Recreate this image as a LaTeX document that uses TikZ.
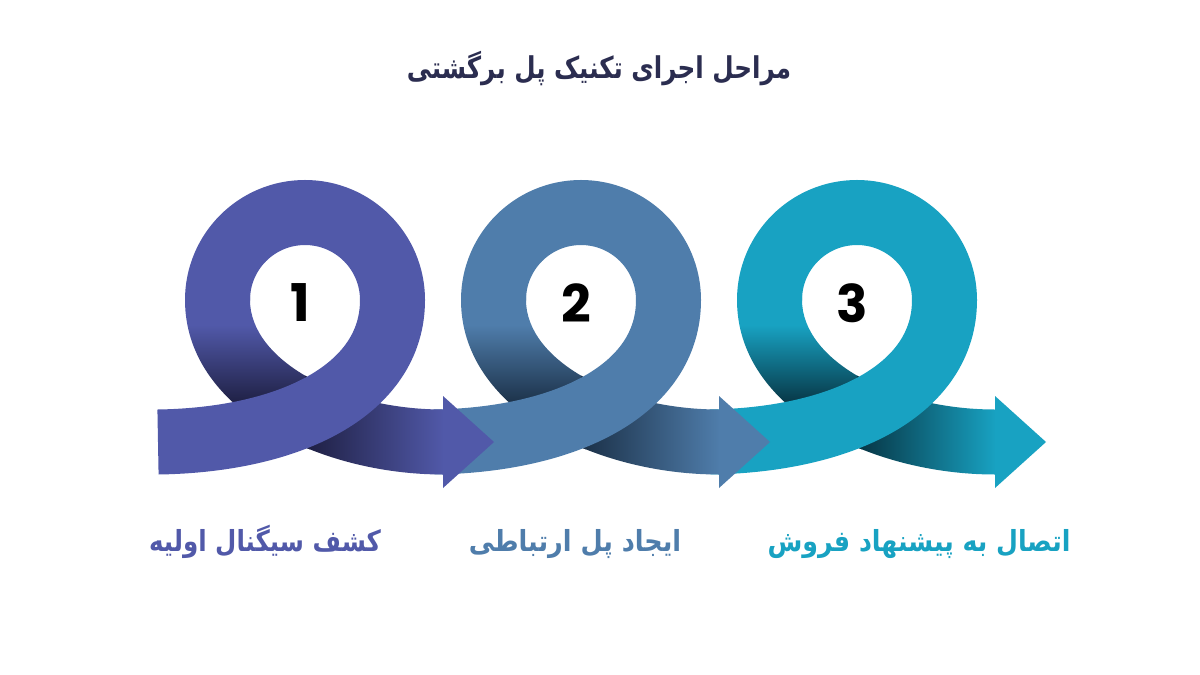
\documentclass[tikz,border=0pt]{standalone}
\usepackage{fontspec}
\usepackage{graphicx}
\setmainfont{DejaVu Sans}
\newfontfamily\farsi[Script=Arabic]{DejaVu Sans}
\newfontfamily\numfont{Poppins}
\TeXXeTstate=1
\definecolor{baseA}{HTML}{5159A9}
\definecolor{darkA}{HTML}{1E1F42}
\definecolor{baseB}{HTML}{4F7DAB}
\definecolor{darkB}{HTML}{1B3047}
\definecolor{baseC}{HTML}{18A2C2}
\definecolor{darkC}{HTML}{073443}
\definecolor{titlecol}{HTML}{2B2D50}
\tikzset{
  numtext/.style={font=\numfont\bfseries\fontsize{52}{52}\selectfont, text=black, inner sep=0pt},
  lbl/.style={font=\farsi\bfseries\fontsize{29}{29}\selectfont, inner sep=0pt, anchor=base},
  ttl/.style={font=\farsi\bfseries\fontsize{30}{30}\selectfont, inner sep=0pt, anchor=base, text=titlecol}
}
\newcommand\drawloop[5]{%
\begin{scope}[xshift=#1pt]
  \begin{scope}
    \clip (185,295) -- (185,300) .. controls (185,410) and (320,474.5) .. (443,474.5)
      -- (443,409.5) .. controls (340,409.5) and (250,360) .. (250,300) -- (250,295) -- cycle;
    \fill[#2] (150,280) rectangle (310,325);
    \shade[top color=#2,bottom color=#3] (150,325) rectangle (310,405);
    \fill[#3] (150,405) rectangle (310,490);
    \shade[left color=#3,right color=#2] (305,330) rectangle (444,490);
  \end{scope}
  \fill[#2] (443,396) -- (494,442) -- (443,488) -- cycle;
  \draw[#2,line width=65pt] (158,442) .. controls (290,440) and (392.5,390) .. (392.5,300)
    arc[start angle=0,end angle=-180,radius=87.5];
  \node[numtext] (#5) at (300,303) {#4};
\end{scope}}
\begin{document}
\begin{tikzpicture}[x=1pt,y=-1pt]
\useasboundingbox (0,0) rectangle (1200,675);
\fill[white] (0,0) rectangle (1200,675);
\drawloop{552}{baseC}{darkC}{3}{n3}
\drawloop{276}{baseB}{darkB}{2}{n2}
\drawloop{0}{baseA}{darkA}{1}{n1}
\node[ttl] (title) at (599,78) {\scalebox{0.82}[1]{\beginR مراحل اجرای تکنیک پل برگشتی\endR}};
\node[lbl, text=baseA] (l1) at (265,551) {\scalebox{0.845}[1]{\beginR کشف سیگنال اولیه\endR}};
\node[lbl, text=baseB] (l2) at (575,551) {\scalebox{0.88}[1]{\beginR ایجاد پل ارتباطی\endR}};
\node[lbl, text=baseC] (l3) at (919,551) {\scalebox{0.87}[1]{\beginR اتصال به پیشنهاد فروش\endR}};
\end{tikzpicture}
\end{document}
